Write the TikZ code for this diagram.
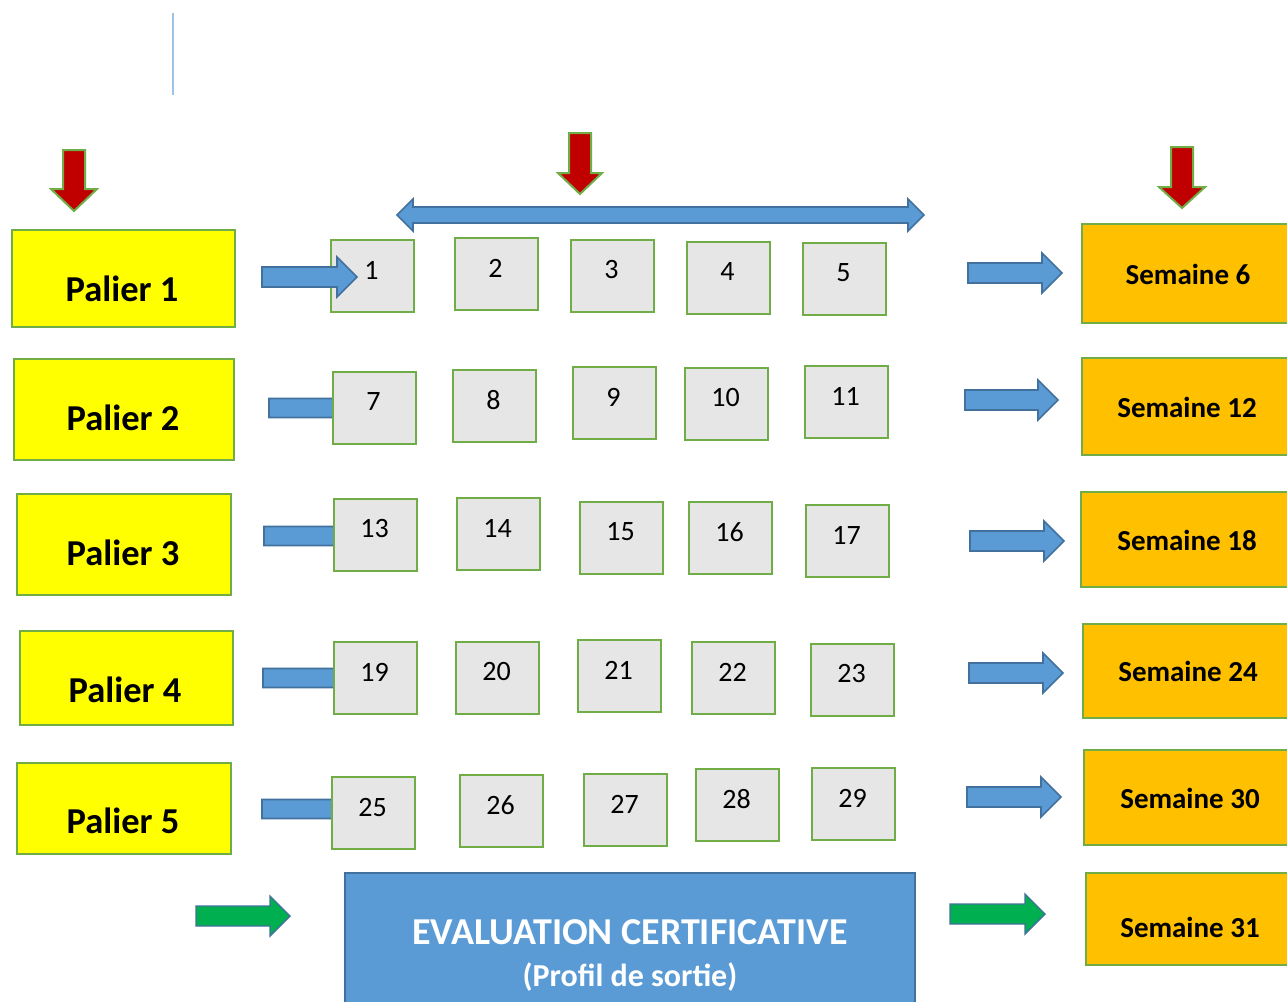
\documentclass[tikz,border=0pt]{standalone}
\usepackage{fontspec}
\setmainfont{Carlito}
\usetikzlibrary{calc}
\definecolor{pyellow}{HTML}{FFFF00}
\definecolor{porange}{HTML}{FFC000}
\definecolor{pgreen}{HTML}{70AD47}
\definecolor{pgray}{HTML}{E7E6E6}
\definecolor{pblue}{HTML}{5B9BD5}
\definecolor{pbluedark}{HTML}{41719C}
\definecolor{pred}{HTML}{C00000}
\definecolor{parrowgreen}{HTML}{00B050}
\definecolor{plineblue}{HTML}{9DC3E6}
\newcommand{\harrow}[7]{%
  \draw[#1] (#2,{#5-#6}) -- (#3,{#5-#6}) -- (#3,{#5-#7}) -- (#4,#5) -- (#3,{#5+#7}) -- (#3,{#5+#6}) -- (#2,{#5+#6}) -- cycle;}
\newcommand{\varrow}[7]{%
  \draw[#1] ({#2-#6},#3) -- ({#2+#6},#3) -- ({#2+#6},#4) -- ({#2+#7},#4) -- (#2,#5) -- ({#2-#7},#4) -- ({#2-#6},#4) -- cycle;}
\begin{document}
\begin{tikzpicture}[x=1pt,y=-1pt,
  palierbox/.style={draw=pgreen, line width=2.2pt, fill=pyellow, anchor=north west, inner sep=0pt},
  semainebox/.style={draw=pgreen, line width=2.2pt, fill=porange, anchor=north west, inner sep=0pt},
  numbox/.style={draw=pgreen, line width=2pt, fill=pgray, anchor=north west, inner sep=0pt, minimum width=83pt, minimum height=72pt},
  paliertext/.style={font=\fontsize{36.5}{40}\selectfont\bfseries, inner sep=0pt},
  semainetext/.style={font=\fontsize{29}{33}\selectfont\bfseries, inner sep=0pt},
  numtext/.style={font=\fontsize{28}{32}\selectfont, inner sep=0pt},
  bluearrow/.style={fill=pblue, draw=pbluedark, line width=1.6pt, line join=miter},
  greenarrow/.style={fill=parrowgreen, draw=pbluedark, line width=1.4pt, line join=miter},
  redarrow/.style={fill=pred, draw=pgreen, line width=2pt, line join=miter}]
\useasboundingbox (0,0) rectangle (1287,1001);
\clip (0,0) rectangle (1287,1001);
\fill[white] (0,0) rectangle (1287,1001);
% thin vertical line
\draw[plineblue, line width=1.6pt] (173,13) -- (173,95);
% red down arrows
\varrow{redarrow}{74}{150}{189}{211}{11}{23}
\varrow{redarrow}{580}{133}{173}{194}{11}{22}
\varrow{redarrow}{1182}{147}{187}{208}{11}{23}
% double arrow
\draw[bluearrow] (397,215) -- (413,199) -- (413,207) -- (908,207) -- (908,199) -- (924,215) -- (908,231) -- (908,223) -- (413,223) -- (413,231) -- cycle;
% left arrows under squares (rows 2-5)
\harrow{bluearrow}{269}{345}{365}{408}{9.5}{20}
\harrow{bluearrow}{264}{345}{365}{536}{9.5}{20}
\harrow{bluearrow}{263}{345}{365}{678}{9.5}{20}
\harrow{bluearrow}{262}{345}{365}{809}{9.5}{20}
% Palier boxes
\node[palierbox, minimum width=223pt, minimum height=97pt] (p1) at (11,229) {};
\node[palierbox, minimum width=220pt, minimum height=101pt] (p2) at (13,358) {};
\node[palierbox, minimum width=214pt, minimum height=101pt] (p3) at (16,493) {};
\node[palierbox, minimum width=213pt, minimum height=94pt] (p4) at (19,630) {};
\node[palierbox, minimum width=214pt, minimum height=91pt] (p5) at (16,762) {};
\node[paliertext] (tp1) at (122,289) {Palier 1};
\node[paliertext] (tp2) at (123,418) {Palier 2};
\node[paliertext] (tp3) at (123,553) {Palier 3};
\node[paliertext] (tp4) at (125,690) {Palier 4};
\node[paliertext] (tp5) at (123,821) {Palier 5};
% Semaine boxes
\node[semainebox, minimum width=230pt, minimum height=99pt] (s6) at (1081,223) {};
\node[semainebox, minimum width=230pt, minimum height=97pt] (s12) at (1081,357) {};
\node[semainebox, minimum width=230pt, minimum height=95pt] (s18) at (1080,491) {};
\node[semainebox, minimum width=230pt, minimum height=94pt] (s24) at (1082,623) {};
\node[semainebox, minimum width=230pt, minimum height=95pt] (s30) at (1083,749) {};
\node[semainebox, minimum width=230pt, minimum height=92pt] (s31) at (1085,872) {};
\node[semainetext] (ts6) at (1188,274) {Semaine 6};
\node[semainetext] (ts12) at (1187,407) {Semaine 12};
\node[semainetext] (ts18) at (1187,540) {Semaine 18};
\node[semainetext] (ts24) at (1188,671) {Semaine 24};
\node[semainetext] (ts30) at (1190,798) {Semaine 30};
\node[semainetext] (ts31) at (1190,927) {Semaine 31};
% number squares
\foreach \n/\x/\y in {1/330/239, 2/454/237, 3/570/239, 4/686/241, 5/802/242,
  7/332/371, 8/452/369, 9/572/366, 10/684/367, 11/804/365,
  13/333/498, 14/456/497, 15/579/501, 16/688/501, 17/805/504,
  19/333/641, 20/455/641, 21/577/639, 22/691/641, 23/810/643,
  25/331/776, 26/459/774, 27/583/773, 28/695/768, 29/811/767}{
  \node[numbox] (n\n) at (\x,\y) {};
  \node[numtext] (tn\n) at ($(\x,\y)+(41.5,31)$) {\n};
}
% row 1 left arrow (on top of square 1)
\harrow{bluearrow}{262}{337}{357}{277}{10}{20}
% right arrows
\harrow{bluearrow}{968}{1042}{1062}{273}{10}{20}
\harrow{bluearrow}{965}{1038}{1058}{400}{10}{20}
\harrow{bluearrow}{970}{1044}{1064}{541}{10}{20}
\harrow{bluearrow}{969}{1043}{1063}{673}{10}{20}
\harrow{bluearrow}{967}{1041}{1061}{797}{10}{20}
% green arrows
\harrow{greenarrow}{196}{270}{290}{916}{10}{20}
\harrow{greenarrow}{950}{1025}{1045}{914}{10}{20}
% evaluation box
\node[draw=pbluedark, line width=2pt, fill=pblue, anchor=north west, minimum width=570pt, minimum height=160pt] (ev) at (344,872) {};
\node[font=\fontsize{38}{40}\selectfont\bfseries, text=white, inner sep=0pt] (tev1) at (630,932) {EVALUATION CERTIFICATIVE};
\node[font=\fontsize{32}{36}\selectfont\bfseries, text=white, inner sep=0pt] (tev2) at (630,977) {(Profil de sortie)};
\end{tikzpicture}
\end{document}
